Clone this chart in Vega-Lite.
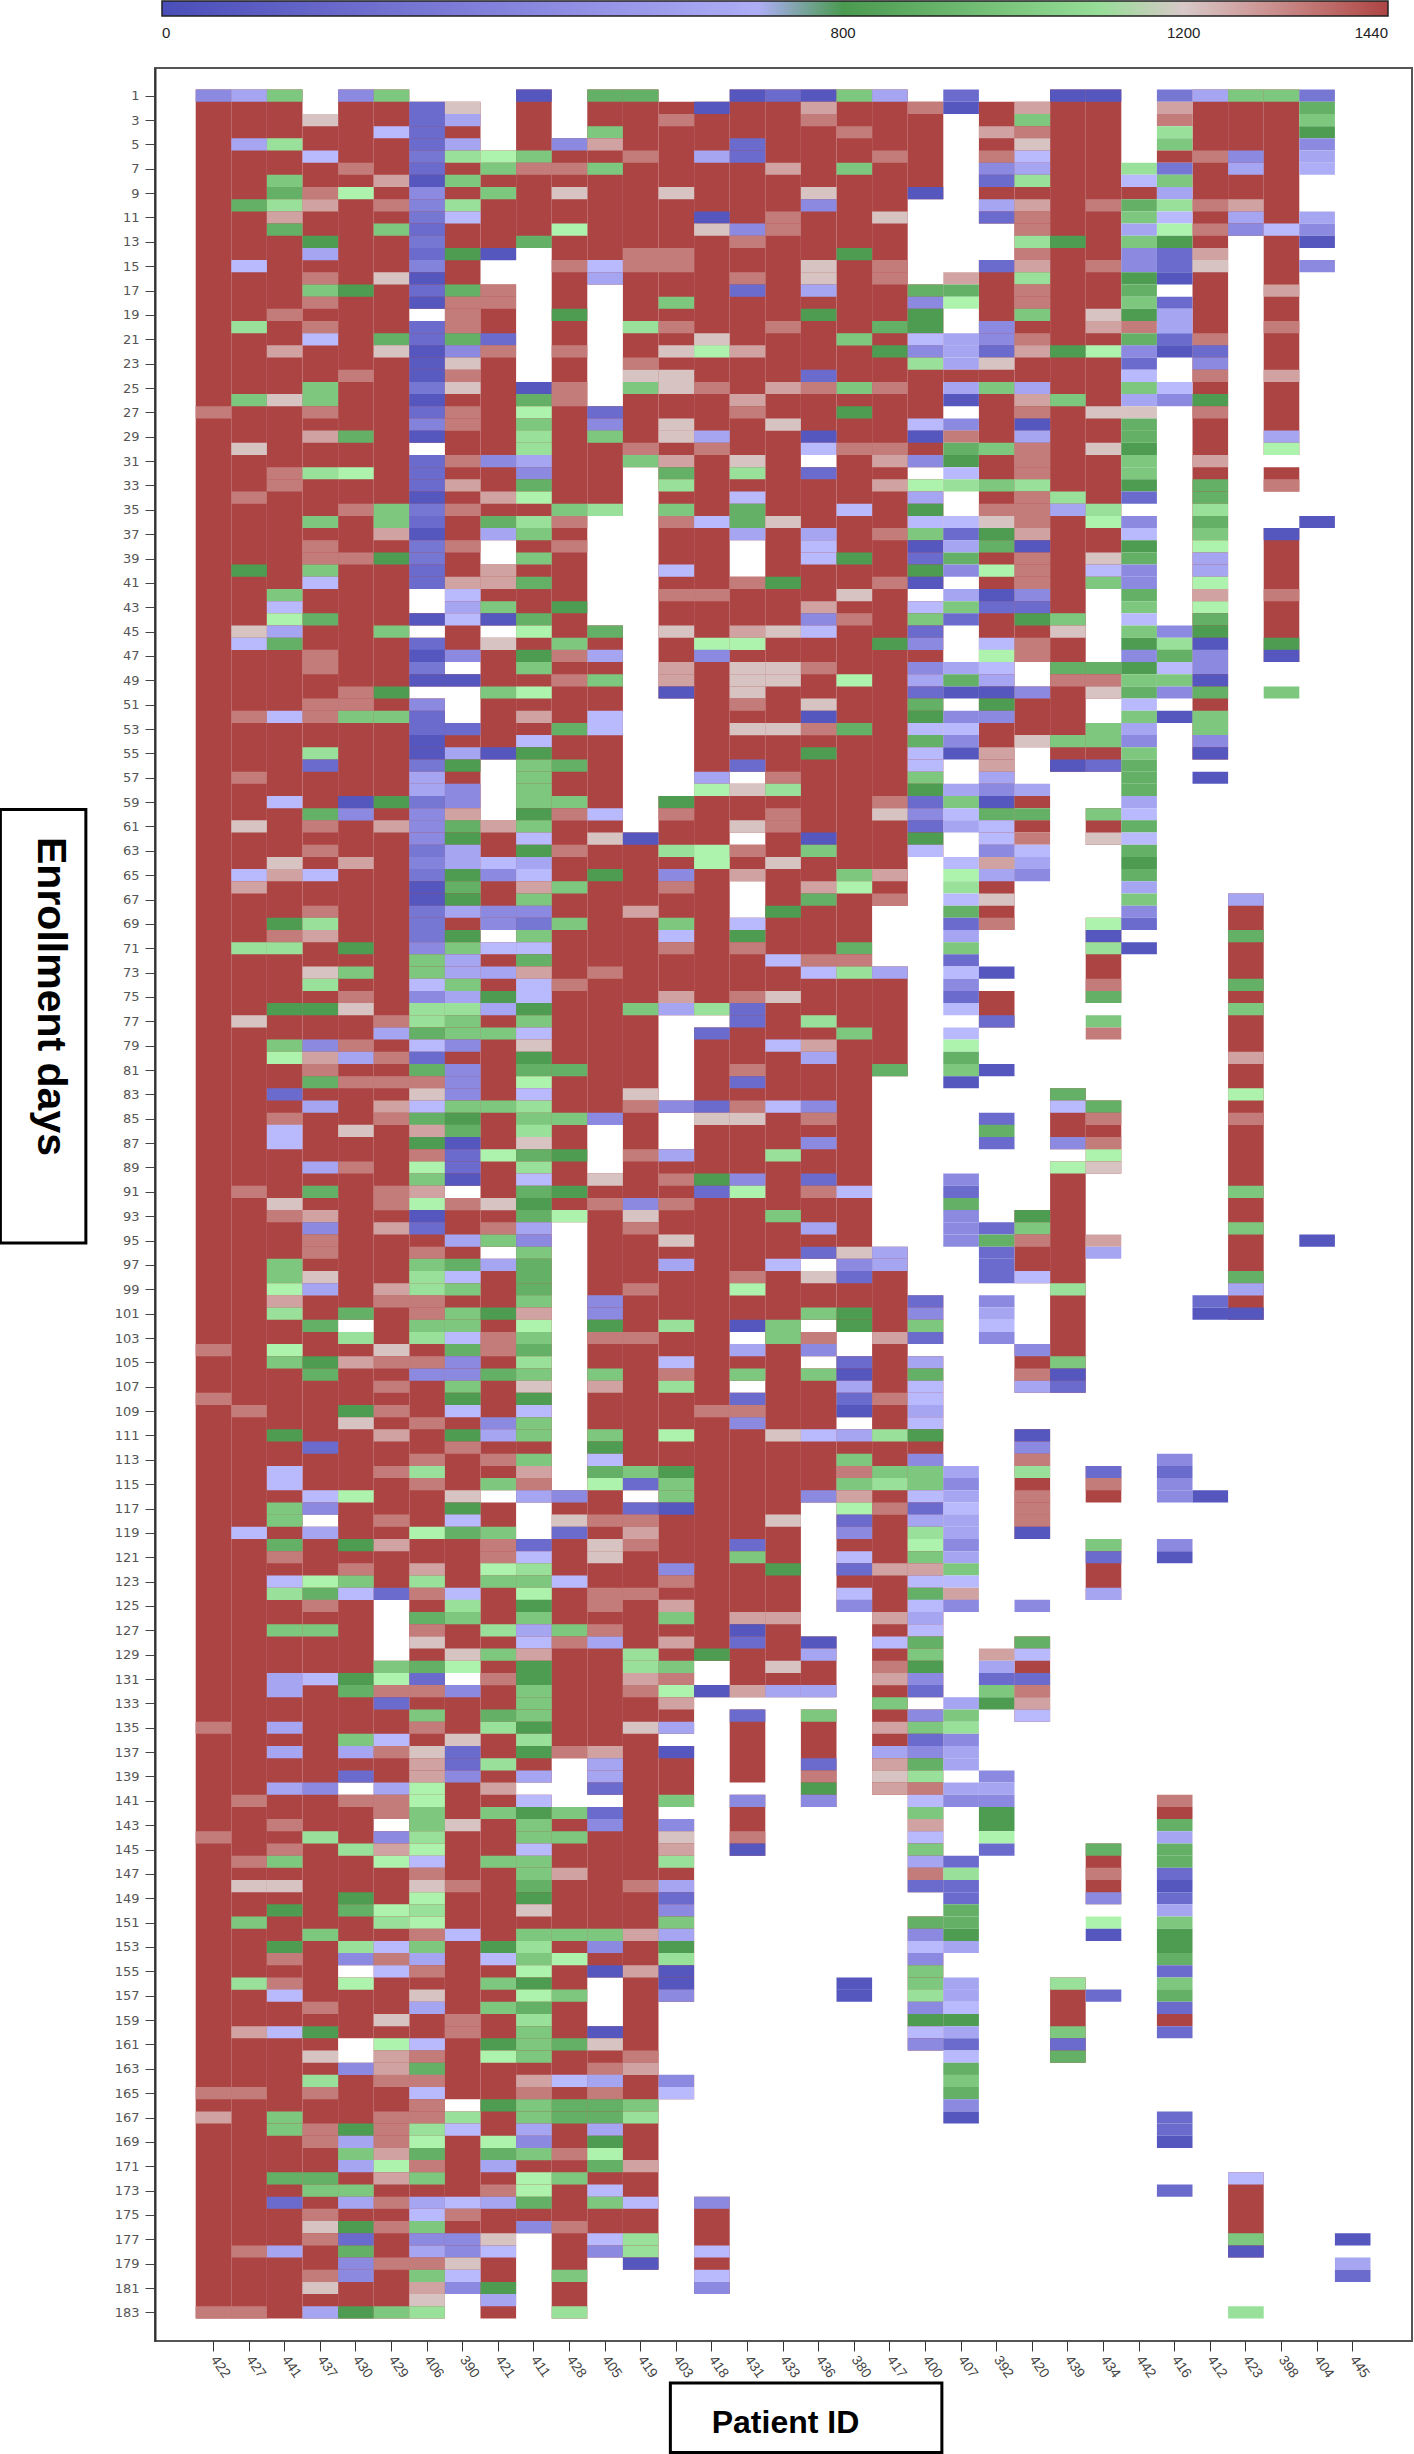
{"$schema":"https://vega.github.io/schema/vega-lite/v6.json","width":1257,"height":2273,"autosize":{"type":"none"},"padding":{"left":155,"top":68,"right":2,"bottom":113},"background":"white","config":{"view":{"stroke":"#555","strokeWidth":2}},"layer":[{"data":{"values":[
{"p":422,"a":0.5,"b":183.5,"v":1440},{"p":427,"a":0.5,"b":183.5,"v":1440},{"p":441,"a":0.5,"b":183.5,"v":1440},{"p":437,"a":2.5,"b":117.5,"v":1440},{"p":437,"a":118.5,"b":183.5,"v":1440},
{"p":430,"a":0.5,"b":101.5,"v":1440},{"p":430,"a":102.5,"b":139.5,"v":1440},{"p":430,"a":140.5,"b":154.5,"v":1440},{"p":430,"a":155.5,"b":160.5,"v":1440},{"p":430,"a":162.5,"b":183.5,"v":1440},
{"p":429,"a":0.5,"b":124.5,"v":1440},{"p":429,"a":129.5,"b":142.5,"v":1440},{"p":429,"a":143.5,"b":183.5,"v":1440},
{"p":406,"a":1.5,"b":18.5,"v":1440},{"p":406,"a":19.5,"b":29.5,"v":1440},{"p":406,"a":30.5,"b":41.5,"v":1440},{"p":406,"a":43.5,"b":44.5,"v":1440},{"p":406,"a":45.5,"b":49.5,"v":1440},{"p":406,"a":50.5,"b":183.5,"v":1440},
{"p":390,"a":1.5,"b":47.5,"v":1440},{"p":390,"a":48.5,"b":49.5,"v":1440},{"p":390,"a":52.5,"b":90.5,"v":1440},{"p":390,"a":91.5,"b":130.5,"v":1440},{"p":390,"a":131.5,"b":165.5,"v":1440},{"p":390,"a":166.5,"b":181.5,"v":1440},
{"p":421,"a":5.5,"b":14.5,"v":1440},{"p":421,"a":16.5,"b":37.5,"v":1440},{"p":421,"a":39.5,"b":44.5,"v":1440},{"p":421,"a":45.5,"b":55.5,"v":1440},{"p":421,"a":60.5,"b":69.5,"v":1440},{"p":421,"a":70.5,"b":95.5,"v":1440},{"p":421,"a":96.5,"b":115.5,"v":1440},{"p":421,"a":116.5,"b":183.5,"v":1440},
{"p":411,"a":0.5,"b":13.5,"v":1440},{"p":411,"a":24.5,"b":116.5,"v":1440},{"p":411,"a":119.5,"b":139.5,"v":1440},{"p":411,"a":140.5,"b":176.5,"v":1440},
{"p":428,"a":4.5,"b":93.5,"v":1440},{"p":428,"a":115.5,"b":137.5,"v":1440},{"p":428,"a":141.5,"b":183.5,"v":1440},
{"p":405,"a":0.5,"b":16.5,"v":1440},{"p":405,"a":26.5,"b":35.5,"v":1440},{"p":405,"a":44.5,"b":85.5,"v":1440},{"p":405,"a":89.5,"b":140.5,"v":1440},{"p":405,"a":141.5,"b":155.5,"v":1440},{"p":405,"a":159.5,"b":178.5,"v":1440},
{"p":419,"a":0.5,"b":31.5,"v":1440},{"p":419,"a":61.5,"b":115.5,"v":1440},{"p":419,"a":116.5,"b":179.5,"v":1440},
{"p":403,"a":1.5,"b":50.5,"v":1440},{"p":403,"a":58.5,"b":76.5,"v":1440},{"p":403,"a":83.5,"b":84.5,"v":1440},{"p":403,"a":87.5,"b":135.5,"v":1440},{"p":403,"a":136.5,"b":141.5,"v":1440},{"p":403,"a":142.5,"b":157.5,"v":1440},{"p":403,"a":163.5,"b":165.5,"v":1440},
{"p":418,"a":1.5,"b":76.5,"v":1440},{"p":418,"a":77.5,"b":129.5,"v":1440},{"p":418,"a":131.5,"b":132.5,"v":1440},{"p":418,"a":173.5,"b":181.5,"v":1440},
{"p":431,"a":0.5,"b":37.5,"v":1440},{"p":431,"a":40.5,"b":56.5,"v":1440},{"p":431,"a":57.5,"b":61.5,"v":1440},{"p":431,"a":62.5,"b":65.5,"v":1440},{"p":431,"a":68.5,"b":102.5,"v":1440},{"p":431,"a":103.5,"b":106.5,"v":1440},{"p":431,"a":107.5,"b":132.5,"v":1440},{"p":431,"a":133.5,"b":139.5,"v":1440},{"p":431,"a":140.5,"b":145.5,"v":1440},
{"p":433,"a":0.5,"b":132.5,"v":1440},
{"p":436,"a":0.5,"b":30.5,"v":1440},{"p":436,"a":31.5,"b":96.5,"v":1440},{"p":436,"a":97.5,"b":101.5,"v":1440},{"p":436,"a":102.5,"b":104.5,"v":1440},{"p":436,"a":105.5,"b":116.5,"v":1440},{"p":436,"a":127.5,"b":132.5,"v":1440},{"p":436,"a":133.5,"b":141.5,"v":1440},
{"p":380,"a":0.5,"b":102.5,"v":1440},{"p":380,"a":104.5,"b":109.5,"v":1440},{"p":380,"a":110.5,"b":125.5,"v":1440},
{"p":417,"a":0.5,"b":67.5,"v":1440},{"p":417,"a":72.5,"b":81.5,"v":1440},{"p":417,"a":95.5,"b":140.5,"v":1440},
{"p":400,"a":1.5,"b":9.5,"v":1440},{"p":400,"a":16.5,"b":31.5,"v":1440},{"p":400,"a":32.5,"b":41.5,"v":1440},{"p":400,"a":42.5,"b":63.5,"v":1440},{"p":400,"a":99.5,"b":103.5,"v":1440},{"p":400,"a":104.5,"b":132.5,"v":1440},{"p":400,"a":133.5,"b":148.5,"v":1440},{"p":400,"a":150.5,"b":161.5,"v":1440},
{"p":392,"a":1.5,"b":11.5,"v":1440},{"p":392,"a":14.5,"b":69.5,"v":1440},{"p":392,"a":74.5,"b":77.5,"v":1440},
{"p":420,"a":1.5,"b":47.5,"v":1440},{"p":420,"a":49.5,"b":54.5,"v":1440},{"p":420,"a":92.5,"b":98.5,"v":1440},{"p":420,"a":103.5,"b":107.5,"v":1440},{"p":420,"a":110.5,"b":119.5,"v":1440},{"p":420,"a":127.5,"b":134.5,"v":1440},
{"p":439,"a":0.5,"b":56.5,"v":1440},{"p":439,"a":82.5,"b":87.5,"v":1440},{"p":439,"a":88.5,"b":107.5,"v":1440},{"p":439,"a":155.5,"b":162.5,"v":1440},
{"p":434,"a":0.5,"b":41.5,"v":1440},{"p":434,"a":47.5,"b":50.5,"v":1440},{"p":434,"a":52.5,"b":56.5,"v":1440},{"p":434,"a":59.5,"b":62.5,"v":1440},{"p":434,"a":68.5,"b":75.5,"v":1440},{"p":434,"a":83.5,"b":89.5,"v":1440},{"p":434,"a":113.5,"b":116.5,"v":1440},{"p":434,"a":119.5,"b":124.5,"v":1440},{"p":434,"a":144.5,"b":149.5,"v":1440},
{"p":412,"a":0.5,"b":55.5,"v":1440},
{"p":423,"a":0.5,"b":12.5,"v":1440},{"p":423,"a":66.5,"b":101.5,"v":1440},{"p":423,"a":171.5,"b":178.5,"v":1440},
{"p":398,"a":0.5,"b":30.5,"v":1440},{"p":398,"a":31.5,"b":33.5,"v":1440},{"p":398,"a":36.5,"b":47.5,"v":1440}
]},"mark":{"type":"rect"},"encoding":{"x":{"field":"p","type":"ordinal","sort":null,"title":"Patient ID","scale":{"domain":[422,427,441,437,430,429,406,390,421,411,428,405,419,403,418,431,433,436,380,417,400,407,392,420,439,434,442,416,412,423,398,404,445],"range":[40.7,1215.5],"paddingInner":0,"paddingOuter":0},"axis":{"labelAngle":55,"labelFont":"Liberation Sans","labelFontSize":14,"labelColor":"#444","tickColor":"#333","tickSize":10,"domain":false,"labelPadding":6,"labelAlign":"left","titleFont":"Liberation Sans","titleFontSize":32,"titleFontWeight":"bold","titleColor":"black","titleBaseline":"alphabetic","titleX":630,"titleY":91}},"y":{"field":"a","type":"quantitative","title":"Enrollment days","scale":{"domain":[185.35,-1.274],"nice":false,"zero":false},"axis":{"values":[1,3,5,7,9,11,13,15,17,19,21,23,25,27,29,31,33,35,37,39,41,43,45,47,49,51,53,55,57,59,61,63,65,67,69,71,73,75,77,79,81,83,85,87,89,91,93,95,97,99,101,103,105,107,109,111,113,115,117,119,121,123,125,127,129,131,133,135,137,139,141,143,145,147,149,151,153,155,157,159,161,163,165,167,169,171,173,175,177,179,181,183],"tickCount":100,"labelOverlap":false,"grid":false,"labelFont":"DejaVu Sans","labelFontSize":13,"labelColor":"#555","tickColor":"#444","tickSize":10,"domainColor":"#333","domainWidth":2,"labelPadding":6,"titleFont":"Liberation Sans","titleFontSize":41,"titleFontWeight":"bold","titleColor":"black","titleBaseline":"alphabetic","titleAngle":90,"titleX":-118,"titleY":928}},"y2":{"field":"b"},"color":{"field":"v","type":"quantitative","scale":{"type":"linear","domain":[0,799.9,800,1199.9,1200,1440],"range":["#4a4eb8","#bcbcff","#4a9a50","#b0f5b0","#d8c8c8","#ad4444"],"clamp":true,"nice":false,"zero":false},"legend":{"orient":"none","legendX":7,"legendY":-67,"direction":"horizontal","gradientLength":1226,"gradientThickness":15,"gradientStrokeColor":"#222","gradientStrokeWidth":1.5,"values":[0,800,1200,1440],"format":"d","title":null,"labelFont":"Liberation Sans","labelFontSize":15,"labelColor":"#222","labelOffset":10}}}},
{"data":{"values":[{"x0":-0.123,"x1":-0.055,"y0":59.6,"y1":95.2},{"x0":0.41,"x1":0.626,"y0":188.8,"y1":194.5}]},"mark":{"type":"rect","fill":null,"stroke":"black","strokeWidth":3,"clip":false},"encoding":{"x":{"field":"x0","type":"quantitative","scale":{"domain":[0,1],"nice":false,"zero":false},"axis":null},"x2":{"field":"x1"},"y":{"field":"y0","type":"quantitative"},"y2":{"field":"y1"}}},
{"data":{"values":[
{"p":422,"d":1,"v":450},{"p":422,"d":27,"v":1340},{"p":422,"d":104,"v":1340},{"p":422,"d":108,"v":1340},{"p":422,"d":135,"v":1340},{"p":422,"d":144,"v":1340},{"p":422,"d":165,"v":1340},{"p":422,"d":167,"v":1270},{"p":422,"d":183,"v":1340},
{"p":427,"d":1,"v":640},{"p":427,"d":5,"v":640},{"p":427,"d":10,"v":900},{"p":427,"d":15,"v":780},{"p":427,"d":20,"v":1110},{"p":427,"d":26,"v":1000},{"p":427,"d":30,"v":1210},{"p":427,"d":34,"v":1340},{"p":427,"d":40,"v":810},{"p":427,"d":45,"v":1210},{"p":427,"d":46,"v":780},{"p":427,"d":52,"v":1340},{"p":427,"d":57,"v":1340},{"p":427,"d":61,"v":1210},{"p":427,"d":65,"v":780},{"p":427,"d":66,"v":1270},{"p":427,"d":71,"v":1110},{"p":427,"d":77,"v":1210},{"p":427,"d":91,"v":1340},{"p":427,"d":109,"v":1340},{"p":427,"d":119,"v":780},{"p":427,"d":141,"v":1340},{"p":427,"d":146,"v":1340},{"p":427,"d":148,"v":1210},{"p":427,"d":151,"v":1000},{"p":427,"d":156,"v":1110},{"p":427,"d":160,"v":1270},{"p":427,"d":165,"v":1340},{"p":427,"d":178,"v":1340},{"p":427,"d":183,"v":1340},
{"p":441,"d":1,"v":1000},{"p":441,"d":5,"v":1110},{"p":441,"d":8,"v":1000},{"p":441,"d":9,"v":900},{"p":441,"d":10,"v":1110},{"p":441,"d":11,"v":1270},{"p":441,"d":12,"v":900},{"p":441,"d":19,"v":1340},{"p":441,"d":22,"v":1270},{"p":441,"d":26,"v":1210},{"p":441,"d":32,"v":1340},{"p":441,"d":33,"v":1340},{"p":441,"d":42,"v":1000},{"p":441,"d":43,"v":780},{"p":441,"d":44,"v":1190},{"p":441,"d":45,"v":640},{"p":441,"d":46,"v":900},{"p":441,"d":52,"v":780},{"p":441,"d":59,"v":780},{"p":441,"d":64,"v":1210},{"p":441,"d":65,"v":1270},{"p":441,"d":69,"v":810},{"p":441,"d":70,"v":1340},{"p":441,"d":71,"v":1110},{"p":441,"d":76,"v":810},{"p":441,"d":79,"v":1000},{"p":441,"d":80,"v":1190},{"p":441,"d":83,"v":220},{"p":441,"d":85,"v":1340},{"p":441,"d":86,"v":780},{"p":441,"d":87,"v":780},{"p":441,"d":92,"v":1210},{"p":441,"d":93,"v":1340},{"p":441,"d":97,"v":1000},{"p":441,"d":98,"v":1000},{"p":441,"d":99,"v":1190},{"p":441,"d":100,"v":1270},{"p":441,"d":101,"v":1110},{"p":441,"d":104,"v":1190},{"p":441,"d":105,"v":1000},{"p":441,"d":111,"v":810},{"p":441,"d":114,"v":780},{"p":441,"d":115,"v":780},{"p":441,"d":117,"v":1000},{"p":441,"d":118,"v":1000},{"p":441,"d":120,"v":900},{"p":441,"d":121,"v":1340},{"p":441,"d":123,"v":780},{"p":441,"d":124,"v":1110},{"p":441,"d":127,"v":1000},{"p":441,"d":131,"v":640},{"p":441,"d":132,"v":640},{"p":441,"d":135,"v":640},{"p":441,"d":137,"v":640},{"p":441,"d":140,"v":640},{"p":441,"d":143,"v":1340},{"p":441,"d":145,"v":1340},{"p":441,"d":146,"v":1000},{"p":441,"d":148,"v":1210},{"p":441,"d":150,"v":810},{"p":441,"d":153,"v":810},{"p":441,"d":154,"v":1340},{"p":441,"d":156,"v":1340},{"p":441,"d":157,"v":780},{"p":441,"d":160,"v":780},{"p":441,"d":167,"v":1000},{"p":441,"d":168,"v":1000},{"p":441,"d":172,"v":900},{"p":441,"d":174,"v":220},{"p":441,"d":178,"v":640},
{"p":437,"d":3,"v":1210},{"p":437,"d":6,"v":780},{"p":437,"d":9,"v":1340},{"p":437,"d":10,"v":1270},{"p":437,"d":13,"v":810},{"p":437,"d":14,"v":640},{"p":437,"d":16,"v":1340},{"p":437,"d":17,"v":1000},{"p":437,"d":18,"v":1340},{"p":437,"d":20,"v":1340},{"p":437,"d":21,"v":780},{"p":437,"d":25,"v":1000},{"p":437,"d":26,"v":1000},{"p":437,"d":27,"v":1340},{"p":437,"d":29,"v":1270},{"p":437,"d":32,"v":1110},{"p":437,"d":36,"v":1000},{"p":437,"d":38,"v":1340},{"p":437,"d":39,"v":1340},{"p":437,"d":40,"v":1000},{"p":437,"d":41,"v":780},{"p":437,"d":44,"v":900},{"p":437,"d":47,"v":1340},{"p":437,"d":48,"v":1340},{"p":437,"d":51,"v":1340},{"p":437,"d":52,"v":1340},{"p":437,"d":55,"v":1110},{"p":437,"d":56,"v":220},{"p":437,"d":60,"v":900},{"p":437,"d":61,"v":1340},{"p":437,"d":63,"v":1340},{"p":437,"d":65,"v":780},{"p":437,"d":68,"v":1340},{"p":437,"d":69,"v":1110},{"p":437,"d":70,"v":1270},{"p":437,"d":73,"v":1210},{"p":437,"d":74,"v":1110},{"p":437,"d":76,"v":810},{"p":437,"d":79,"v":450},{"p":437,"d":80,"v":1270},{"p":437,"d":81,"v":1340},{"p":437,"d":82,"v":900},{"p":437,"d":84,"v":640},{"p":437,"d":89,"v":640},{"p":437,"d":91,"v":900},{"p":437,"d":93,"v":1270},{"p":437,"d":94,"v":450},{"p":437,"d":95,"v":1340},{"p":437,"d":96,"v":1340},{"p":437,"d":98,"v":1210},{"p":437,"d":99,"v":640},{"p":437,"d":102,"v":900},{"p":437,"d":105,"v":810},{"p":437,"d":106,"v":900},{"p":437,"d":112,"v":220},{"p":437,"d":116,"v":780},{"p":437,"d":117,"v":450},{"p":437,"d":119,"v":640},{"p":437,"d":123,"v":1190},{"p":437,"d":124,"v":900},{"p":437,"d":125,"v":1340},{"p":437,"d":127,"v":1000},{"p":437,"d":131,"v":780},{"p":437,"d":140,"v":450},{"p":437,"d":144,"v":1110},{"p":437,"d":152,"v":1000},{"p":437,"d":158,"v":1340},{"p":437,"d":160,"v":810},{"p":437,"d":162,"v":1210},{"p":437,"d":164,"v":1110},{"p":437,"d":165,"v":1340},{"p":437,"d":168,"v":1340},{"p":437,"d":169,"v":1340},{"p":437,"d":172,"v":900},{"p":437,"d":173,"v":1000},{"p":437,"d":175,"v":1340},{"p":437,"d":176,"v":1210},{"p":437,"d":177,"v":1340},{"p":437,"d":180,"v":1340},{"p":437,"d":181,"v":1210},{"p":437,"d":183,"v":640},
{"p":430,"d":1,"v":450},{"p":430,"d":7,"v":1340},{"p":430,"d":9,"v":1190},{"p":430,"d":17,"v":810},{"p":430,"d":24,"v":1340},{"p":430,"d":29,"v":900},{"p":430,"d":32,"v":1190},{"p":430,"d":35,"v":1340},{"p":430,"d":39,"v":1340},{"p":430,"d":50,"v":1340},{"p":430,"d":51,"v":1340},{"p":430,"d":52,"v":1000},{"p":430,"d":59,"v":70},{"p":430,"d":60,"v":450},{"p":430,"d":64,"v":1270},{"p":430,"d":71,"v":810},{"p":430,"d":73,"v":1000},{"p":430,"d":75,"v":1340},{"p":430,"d":76,"v":1210},{"p":430,"d":79,"v":1340},{"p":430,"d":80,"v":640},{"p":430,"d":82,"v":1340},{"p":430,"d":86,"v":1210},{"p":430,"d":89,"v":1340},{"p":430,"d":101,"v":900},{"p":430,"d":103,"v":1110},{"p":430,"d":105,"v":1270},{"p":430,"d":109,"v":810},{"p":430,"d":110,"v":1210},{"p":430,"d":116,"v":1190},{"p":430,"d":120,"v":810},{"p":430,"d":122,"v":1340},{"p":430,"d":123,"v":1000},{"p":430,"d":124,"v":780},{"p":430,"d":131,"v":810},{"p":430,"d":132,"v":900},{"p":430,"d":136,"v":1000},{"p":430,"d":137,"v":640},{"p":430,"d":139,"v":220},{"p":430,"d":141,"v":1340},{"p":430,"d":145,"v":1110},{"p":430,"d":149,"v":810},{"p":430,"d":150,"v":900},{"p":430,"d":153,"v":1110},{"p":430,"d":154,"v":450},{"p":430,"d":156,"v":1190},{"p":430,"d":163,"v":450},{"p":430,"d":168,"v":810},{"p":430,"d":169,"v":640},{"p":430,"d":170,"v":1000},{"p":430,"d":171,"v":640},{"p":430,"d":173,"v":1000},{"p":430,"d":174,"v":640},{"p":430,"d":176,"v":810},{"p":430,"d":177,"v":220},{"p":430,"d":178,"v":900},{"p":430,"d":179,"v":450},{"p":430,"d":180,"v":450},{"p":430,"d":183,"v":810},
{"p":429,"d":1,"v":1000},{"p":429,"d":4,"v":780},{"p":429,"d":8,"v":1270},{"p":429,"d":10,"v":1340},{"p":429,"d":12,"v":1000},{"p":429,"d":16,"v":1210},{"p":429,"d":21,"v":900},{"p":429,"d":22,"v":1210},{"p":429,"d":35,"v":1000},{"p":429,"d":36,"v":1000},{"p":429,"d":37,"v":1270},{"p":429,"d":39,"v":810},{"p":429,"d":45,"v":1000},{"p":429,"d":50,"v":810},{"p":429,"d":52,"v":1000},{"p":429,"d":59,"v":810},{"p":429,"d":61,"v":1270},{"p":429,"d":77,"v":1340},{"p":429,"d":78,"v":640},{"p":429,"d":80,"v":1340},{"p":429,"d":82,"v":1340},{"p":429,"d":84,"v":1270},{"p":429,"d":85,"v":1340},{"p":429,"d":91,"v":1340},{"p":429,"d":92,"v":1340},{"p":429,"d":94,"v":1270},{"p":429,"d":99,"v":1270},{"p":429,"d":100,"v":1340},{"p":429,"d":104,"v":1210},{"p":429,"d":105,"v":1340},{"p":429,"d":107,"v":1340},{"p":429,"d":109,"v":1340},{"p":429,"d":111,"v":1270},{"p":429,"d":114,"v":1340},{"p":429,"d":118,"v":1340},{"p":429,"d":120,"v":1270},{"p":429,"d":124,"v":220},{"p":429,"d":130,"v":1000},{"p":429,"d":131,"v":1190},{"p":429,"d":132,"v":1340},{"p":429,"d":133,"v":220},{"p":429,"d":136,"v":780},{"p":429,"d":137,"v":1340},{"p":429,"d":140,"v":640},{"p":429,"d":141,"v":1340},{"p":429,"d":142,"v":1340},{"p":429,"d":144,"v":450},{"p":429,"d":145,"v":1270},{"p":429,"d":146,"v":1190},{"p":429,"d":150,"v":1190},{"p":429,"d":151,"v":1110},{"p":429,"d":153,"v":780},{"p":429,"d":154,"v":1340},{"p":429,"d":155,"v":780},{"p":429,"d":159,"v":1210},{"p":429,"d":161,"v":1190},{"p":429,"d":162,"v":1270},{"p":429,"d":163,"v":1270},{"p":429,"d":164,"v":1340},{"p":429,"d":167,"v":1340},{"p":429,"d":168,"v":1340},{"p":429,"d":169,"v":1340},{"p":429,"d":170,"v":1270},{"p":429,"d":171,"v":1190},{"p":429,"d":172,"v":1270},{"p":429,"d":174,"v":1340},{"p":429,"d":176,"v":1340},{"p":429,"d":179,"v":1340},{"p":429,"d":183,"v":1000},
{"p":406,"d":2,"v":220},{"p":406,"d":3,"v":220},{"p":406,"d":4,"v":220},{"p":406,"d":5,"v":220},{"p":406,"d":6,"v":300},{"p":406,"d":7,"v":220},{"p":406,"d":8,"v":70},{"p":406,"d":9,"v":450},{"p":406,"d":10,"v":400},{"p":406,"d":11,"v":300},{"p":406,"d":12,"v":220},{"p":406,"d":13,"v":300},{"p":406,"d":14,"v":220},{"p":406,"d":15,"v":400},{"p":406,"d":16,"v":70},{"p":406,"d":17,"v":220},{"p":406,"d":18,"v":70},{"p":406,"d":20,"v":220},{"p":406,"d":21,"v":220},{"p":406,"d":22,"v":70},{"p":406,"d":23,"v":100},{"p":406,"d":24,"v":100},{"p":406,"d":25,"v":300},{"p":406,"d":26,"v":70},{"p":406,"d":27,"v":220},{"p":406,"d":28,"v":400},{"p":406,"d":29,"v":70},{"p":406,"d":31,"v":220},{"p":406,"d":32,"v":220},{"p":406,"d":33,"v":220},{"p":406,"d":34,"v":70},{"p":406,"d":35,"v":300},{"p":406,"d":36,"v":220},{"p":406,"d":37,"v":70},{"p":406,"d":38,"v":300},{"p":406,"d":39,"v":300},{"p":406,"d":40,"v":220},{"p":406,"d":41,"v":220},{"p":406,"d":44,"v":70},{"p":406,"d":46,"v":220},{"p":406,"d":47,"v":70},{"p":406,"d":48,"v":300},{"p":406,"d":49,"v":70},{"p":406,"d":51,"v":450},{"p":406,"d":52,"v":220},{"p":406,"d":53,"v":220},{"p":406,"d":54,"v":70},{"p":406,"d":55,"v":70},{"p":406,"d":56,"v":300},{"p":406,"d":57,"v":640},{"p":406,"d":58,"v":640},{"p":406,"d":59,"v":300},{"p":406,"d":60,"v":450},{"p":406,"d":61,"v":450},{"p":406,"d":62,"v":450},{"p":406,"d":63,"v":300},{"p":406,"d":64,"v":400},{"p":406,"d":65,"v":300},{"p":406,"d":66,"v":70},{"p":406,"d":67,"v":70},{"p":406,"d":68,"v":300},{"p":406,"d":69,"v":300},{"p":406,"d":70,"v":300},{"p":406,"d":71,"v":450},{"p":406,"d":72,"v":1000},{"p":406,"d":73,"v":1000},{"p":406,"d":74,"v":780},{"p":406,"d":75,"v":450},{"p":406,"d":76,"v":1110},{"p":406,"d":77,"v":1110},{"p":406,"d":78,"v":900},{"p":406,"d":79,"v":780},{"p":406,"d":80,"v":220},{"p":406,"d":81,"v":900},{"p":406,"d":82,"v":1340},{"p":406,"d":83,"v":1210},{"p":406,"d":84,"v":780},{"p":406,"d":85,"v":900},{"p":406,"d":86,"v":1270},{"p":406,"d":87,"v":810},{"p":406,"d":88,"v":1340},{"p":406,"d":89,"v":1190},{"p":406,"d":90,"v":1000},{"p":406,"d":91,"v":1270},{"p":406,"d":92,"v":1190},{"p":406,"d":93,"v":70},{"p":406,"d":94,"v":220},{"p":406,"d":96,"v":1340},{"p":406,"d":97,"v":1000},{"p":406,"d":98,"v":1110},{"p":406,"d":99,"v":1110},{"p":406,"d":100,"v":1340},{"p":406,"d":101,"v":1340},{"p":406,"d":102,"v":1000},{"p":406,"d":103,"v":1110},{"p":406,"d":105,"v":1340},{"p":406,"d":106,"v":450},{"p":406,"d":110,"v":1340},{"p":406,"d":113,"v":1340},{"p":406,"d":114,"v":1110},{"p":406,"d":115,"v":1340},{"p":406,"d":119,"v":1190},{"p":406,"d":122,"v":1270},{"p":406,"d":123,"v":1110},{"p":406,"d":124,"v":1340},{"p":406,"d":126,"v":900},{"p":406,"d":127,"v":1340},{"p":406,"d":128,"v":1210},{"p":406,"d":130,"v":900},{"p":406,"d":131,"v":220},{"p":406,"d":132,"v":1340},{"p":406,"d":134,"v":1000},{"p":406,"d":135,"v":1340},{"p":406,"d":137,"v":1210},{"p":406,"d":138,"v":1270},{"p":406,"d":139,"v":1270},{"p":406,"d":140,"v":1190},{"p":406,"d":141,"v":1190},{"p":406,"d":142,"v":1000},{"p":406,"d":143,"v":1000},{"p":406,"d":144,"v":1110},{"p":406,"d":145,"v":1190},{"p":406,"d":146,"v":780},{"p":406,"d":147,"v":1340},{"p":406,"d":148,"v":1210},{"p":406,"d":149,"v":1190},{"p":406,"d":150,"v":1110},{"p":406,"d":151,"v":1190},{"p":406,"d":152,"v":1340},{"p":406,"d":153,"v":1000},{"p":406,"d":154,"v":640},{"p":406,"d":155,"v":1340},{"p":406,"d":157,"v":1210},{"p":406,"d":158,"v":640},{"p":406,"d":161,"v":780},{"p":406,"d":162,"v":1340},{"p":406,"d":163,"v":900},{"p":406,"d":164,"v":1340},{"p":406,"d":165,"v":780},{"p":406,"d":166,"v":1340},{"p":406,"d":167,"v":1340},{"p":406,"d":168,"v":1110},{"p":406,"d":169,"v":1190},{"p":406,"d":170,"v":900},{"p":406,"d":171,"v":1340},{"p":406,"d":172,"v":1000},{"p":406,"d":174,"v":640},{"p":406,"d":175,"v":780},{"p":406,"d":176,"v":1000},{"p":406,"d":177,"v":450},{"p":406,"d":178,"v":640},{"p":406,"d":179,"v":1340},{"p":406,"d":180,"v":1000},{"p":406,"d":181,"v":1270},{"p":406,"d":182,"v":1210},{"p":406,"d":183,"v":1110},
{"p":390,"d":2,"v":1210},{"p":390,"d":3,"v":640},{"p":390,"d":5,"v":640},{"p":390,"d":6,"v":1110},{"p":390,"d":8,"v":1000},{"p":390,"d":10,"v":1110},{"p":390,"d":11,"v":780},{"p":390,"d":14,"v":810},{"p":390,"d":17,"v":900},{"p":390,"d":18,"v":1340},{"p":390,"d":19,"v":1340},{"p":390,"d":20,"v":1340},{"p":390,"d":21,"v":900},{"p":390,"d":22,"v":450},{"p":390,"d":23,"v":1210},{"p":390,"d":24,"v":1340},{"p":390,"d":25,"v":1210},{"p":390,"d":27,"v":1340},{"p":390,"d":28,"v":1340},{"p":390,"d":31,"v":1340},{"p":390,"d":33,"v":1270},{"p":390,"d":35,"v":1340},{"p":390,"d":38,"v":1340},{"p":390,"d":41,"v":1270},{"p":390,"d":42,"v":780},{"p":390,"d":43,"v":640},{"p":390,"d":44,"v":780},{"p":390,"d":47,"v":450},{"p":390,"d":49,"v":70},{"p":390,"d":53,"v":220},{"p":390,"d":55,"v":640},{"p":390,"d":56,"v":810},{"p":390,"d":58,"v":450},{"p":390,"d":59,"v":450},{"p":390,"d":60,"v":1270},{"p":390,"d":61,"v":900},{"p":390,"d":62,"v":810},{"p":390,"d":63,"v":640},{"p":390,"d":64,"v":640},{"p":390,"d":65,"v":810},{"p":390,"d":66,"v":900},{"p":390,"d":67,"v":810},{"p":390,"d":68,"v":640},{"p":390,"d":70,"v":810},{"p":390,"d":71,"v":1000},{"p":390,"d":72,"v":640},{"p":390,"d":73,"v":640},{"p":390,"d":74,"v":1000},{"p":390,"d":75,"v":640},{"p":390,"d":76,"v":1110},{"p":390,"d":77,"v":1000},{"p":390,"d":78,"v":1000},{"p":390,"d":79,"v":450},{"p":390,"d":81,"v":450},{"p":390,"d":82,"v":450},{"p":390,"d":83,"v":450},{"p":390,"d":84,"v":1000},{"p":390,"d":85,"v":810},{"p":390,"d":86,"v":900},{"p":390,"d":87,"v":70},{"p":390,"d":88,"v":220},{"p":390,"d":89,"v":220},{"p":390,"d":90,"v":70},{"p":390,"d":92,"v":1340},{"p":390,"d":95,"v":640},{"p":390,"d":97,"v":900},{"p":390,"d":98,"v":780},{"p":390,"d":99,"v":1000},{"p":390,"d":101,"v":1000},{"p":390,"d":102,"v":1000},{"p":390,"d":103,"v":780},{"p":390,"d":104,"v":900},{"p":390,"d":105,"v":450},{"p":390,"d":106,"v":450},{"p":390,"d":107,"v":1000},{"p":390,"d":108,"v":810},{"p":390,"d":109,"v":780},{"p":390,"d":111,"v":810},{"p":390,"d":112,"v":1340},{"p":390,"d":116,"v":1210},{"p":390,"d":117,"v":810},{"p":390,"d":118,"v":780},{"p":390,"d":119,"v":900},{"p":390,"d":124,"v":780},{"p":390,"d":125,"v":1110},{"p":390,"d":126,"v":1000},{"p":390,"d":129,"v":1210},{"p":390,"d":130,"v":1190},{"p":390,"d":132,"v":450},{"p":390,"d":136,"v":1210},{"p":390,"d":137,"v":220},{"p":390,"d":138,"v":220},{"p":390,"d":139,"v":450},{"p":390,"d":143,"v":1210},{"p":390,"d":148,"v":1340},{"p":390,"d":152,"v":780},{"p":390,"d":159,"v":1340},{"p":390,"d":160,"v":1340},{"p":390,"d":167,"v":1110},{"p":390,"d":168,"v":780},{"p":390,"d":174,"v":780},{"p":390,"d":175,"v":1340},{"p":390,"d":177,"v":450},{"p":390,"d":178,"v":450},{"p":390,"d":179,"v":1210},{"p":390,"d":180,"v":780},{"p":390,"d":181,"v":450},
{"p":421,"d":6,"v":1190},{"p":421,"d":7,"v":1000},{"p":421,"d":9,"v":1000},{"p":421,"d":14,"v":70},{"p":421,"d":17,"v":1340},{"p":421,"d":18,"v":1340},{"p":421,"d":21,"v":220},{"p":421,"d":22,"v":1340},{"p":421,"d":31,"v":450},{"p":421,"d":34,"v":1270},{"p":421,"d":36,"v":900},{"p":421,"d":37,"v":640},{"p":421,"d":40,"v":1270},{"p":421,"d":41,"v":1270},{"p":421,"d":43,"v":1000},{"p":421,"d":44,"v":70},{"p":421,"d":46,"v":1210},{"p":421,"d":50,"v":1000},{"p":421,"d":55,"v":70},{"p":421,"d":61,"v":1270},{"p":421,"d":64,"v":780},{"p":421,"d":65,"v":450},{"p":421,"d":68,"v":450},{"p":421,"d":69,"v":450},{"p":421,"d":71,"v":780},{"p":421,"d":73,"v":640},{"p":421,"d":75,"v":810},{"p":421,"d":76,"v":640},{"p":421,"d":78,"v":1000},{"p":421,"d":84,"v":1000},{"p":421,"d":88,"v":1190},{"p":421,"d":92,"v":1210},{"p":421,"d":94,"v":1340},{"p":421,"d":95,"v":1000},{"p":421,"d":97,"v":640},{"p":421,"d":101,"v":810},{"p":421,"d":103,"v":1340},{"p":421,"d":104,"v":1340},{"p":421,"d":106,"v":900},{"p":421,"d":110,"v":450},{"p":421,"d":111,"v":640},{"p":421,"d":113,"v":1340},{"p":421,"d":115,"v":1000},{"p":421,"d":119,"v":1000},{"p":421,"d":120,"v":1340},{"p":421,"d":121,"v":1340},{"p":421,"d":122,"v":1190},{"p":421,"d":123,"v":1000},{"p":421,"d":127,"v":1110},{"p":421,"d":129,"v":1000},{"p":421,"d":131,"v":1340},{"p":421,"d":134,"v":900},{"p":421,"d":135,"v":1110},{"p":421,"d":138,"v":1110},{"p":421,"d":140,"v":1270},{"p":421,"d":142,"v":1000},{"p":421,"d":146,"v":1000},{"p":421,"d":153,"v":810},{"p":421,"d":154,"v":780},{"p":421,"d":156,"v":1000},{"p":421,"d":158,"v":1000},{"p":421,"d":161,"v":810},{"p":421,"d":162,"v":1190},{"p":421,"d":166,"v":810},{"p":421,"d":169,"v":1190},{"p":421,"d":170,"v":900},{"p":421,"d":171,"v":640},{"p":421,"d":173,"v":1340},{"p":421,"d":174,"v":640},{"p":421,"d":177,"v":1210},{"p":421,"d":178,"v":780},{"p":421,"d":181,"v":810},{"p":421,"d":182,"v":640},
{"p":411,"d":1,"v":70},{"p":411,"d":6,"v":1000},{"p":411,"d":7,"v":1340},{"p":411,"d":13,"v":900},{"p":411,"d":25,"v":70},{"p":411,"d":26,"v":900},{"p":411,"d":27,"v":1190},{"p":411,"d":28,"v":1000},{"p":411,"d":29,"v":1110},{"p":411,"d":30,"v":1110},{"p":411,"d":31,"v":640},{"p":411,"d":32,"v":450},{"p":411,"d":33,"v":900},{"p":411,"d":34,"v":1190},{"p":411,"d":36,"v":1110},{"p":411,"d":37,"v":1000},{"p":411,"d":39,"v":1000},{"p":411,"d":41,"v":900},{"p":411,"d":44,"v":900},{"p":411,"d":45,"v":1190},{"p":411,"d":47,"v":810},{"p":411,"d":48,"v":1000},{"p":411,"d":50,"v":1190},{"p":411,"d":52,"v":1270},{"p":411,"d":54,"v":780},{"p":411,"d":55,"v":810},{"p":411,"d":56,"v":1000},{"p":411,"d":57,"v":1000},{"p":411,"d":58,"v":1000},{"p":411,"d":59,"v":1000},{"p":411,"d":60,"v":810},{"p":411,"d":61,"v":1000},{"p":411,"d":62,"v":780},{"p":411,"d":63,"v":810},{"p":411,"d":64,"v":640},{"p":411,"d":65,"v":780},{"p":411,"d":66,"v":1270},{"p":411,"d":67,"v":1000},{"p":411,"d":68,"v":450},{"p":411,"d":69,"v":300},{"p":411,"d":70,"v":1000},{"p":411,"d":71,"v":780},{"p":411,"d":72,"v":900},{"p":411,"d":73,"v":1270},{"p":411,"d":74,"v":780},{"p":411,"d":75,"v":780},{"p":411,"d":76,"v":810},{"p":411,"d":77,"v":1000},{"p":411,"d":78,"v":780},{"p":411,"d":79,"v":1210},{"p":411,"d":80,"v":810},{"p":411,"d":81,"v":900},{"p":411,"d":82,"v":1190},{"p":411,"d":83,"v":780},{"p":411,"d":84,"v":1110},{"p":411,"d":85,"v":1000},{"p":411,"d":86,"v":1110},{"p":411,"d":87,"v":1210},{"p":411,"d":88,"v":900},{"p":411,"d":89,"v":1110},{"p":411,"d":90,"v":780},{"p":411,"d":91,"v":900},{"p":411,"d":92,"v":810},{"p":411,"d":93,"v":900},{"p":411,"d":94,"v":640},{"p":411,"d":95,"v":450},{"p":411,"d":96,"v":1000},{"p":411,"d":97,"v":900},{"p":411,"d":98,"v":900},{"p":411,"d":99,"v":900},{"p":411,"d":100,"v":1000},{"p":411,"d":101,"v":1270},{"p":411,"d":102,"v":1190},{"p":411,"d":103,"v":1000},{"p":411,"d":104,"v":900},{"p":411,"d":105,"v":1110},{"p":411,"d":106,"v":1000},{"p":411,"d":107,"v":1210},{"p":411,"d":108,"v":810},{"p":411,"d":109,"v":780},{"p":411,"d":110,"v":1000},{"p":411,"d":111,"v":1000},{"p":411,"d":113,"v":1000},{"p":411,"d":114,"v":1270},{"p":411,"d":115,"v":1340},{"p":411,"d":116,"v":640},{"p":411,"d":120,"v":220},{"p":411,"d":121,"v":780},{"p":411,"d":122,"v":1110},{"p":411,"d":123,"v":1000},{"p":411,"d":124,"v":1190},{"p":411,"d":125,"v":810},{"p":411,"d":126,"v":1000},{"p":411,"d":127,"v":640},{"p":411,"d":128,"v":780},{"p":411,"d":129,"v":1270},{"p":411,"d":130,"v":810},{"p":411,"d":131,"v":810},{"p":411,"d":132,"v":1000},{"p":411,"d":133,"v":1000},{"p":411,"d":134,"v":1000},{"p":411,"d":135,"v":810},{"p":411,"d":136,"v":1110},{"p":411,"d":137,"v":810},{"p":411,"d":139,"v":640},{"p":411,"d":141,"v":780},{"p":411,"d":142,"v":810},{"p":411,"d":143,"v":1000},{"p":411,"d":144,"v":1000},{"p":411,"d":145,"v":780},{"p":411,"d":146,"v":1000},{"p":411,"d":147,"v":1000},{"p":411,"d":148,"v":900},{"p":411,"d":149,"v":810},{"p":411,"d":150,"v":1210},{"p":411,"d":152,"v":1000},{"p":411,"d":153,"v":1110},{"p":411,"d":154,"v":1000},{"p":411,"d":155,"v":1190},{"p":411,"d":156,"v":810},{"p":411,"d":157,"v":1190},{"p":411,"d":158,"v":900},{"p":411,"d":159,"v":1110},{"p":411,"d":160,"v":1000},{"p":411,"d":161,"v":1000},{"p":411,"d":162,"v":1000},{"p":411,"d":164,"v":1270},{"p":411,"d":165,"v":1340},{"p":411,"d":166,"v":1000},{"p":411,"d":167,"v":1000},{"p":411,"d":168,"v":640},{"p":411,"d":169,"v":450},{"p":411,"d":170,"v":1000},{"p":411,"d":172,"v":1190},{"p":411,"d":173,"v":1190},{"p":411,"d":174,"v":900},{"p":411,"d":176,"v":450},
{"p":428,"d":5,"v":450},{"p":428,"d":7,"v":1340},{"p":428,"d":9,"v":1210},{"p":428,"d":12,"v":1190},{"p":428,"d":15,"v":1340},{"p":428,"d":19,"v":810},{"p":428,"d":22,"v":1340},{"p":428,"d":25,"v":1340},{"p":428,"d":26,"v":1340},{"p":428,"d":35,"v":1000},{"p":428,"d":36,"v":1340},{"p":428,"d":38,"v":1340},{"p":428,"d":43,"v":810},{"p":428,"d":46,"v":1000},{"p":428,"d":47,"v":1340},{"p":428,"d":49,"v":1340},{"p":428,"d":53,"v":900},{"p":428,"d":56,"v":900},{"p":428,"d":59,"v":1000},{"p":428,"d":60,"v":1340},{"p":428,"d":63,"v":1340},{"p":428,"d":66,"v":1000},{"p":428,"d":69,"v":1000},{"p":428,"d":74,"v":1340},{"p":428,"d":81,"v":900},{"p":428,"d":85,"v":1000},{"p":428,"d":88,"v":810},{"p":428,"d":91,"v":810},{"p":428,"d":93,"v":1190},{"p":428,"d":116,"v":450},{"p":428,"d":118,"v":1210},{"p":428,"d":119,"v":220},{"p":428,"d":123,"v":780},{"p":428,"d":127,"v":1000},{"p":428,"d":128,"v":1340},{"p":428,"d":137,"v":1340},{"p":428,"d":142,"v":1000},{"p":428,"d":144,"v":1000},{"p":428,"d":147,"v":1270},{"p":428,"d":152,"v":1000},{"p":428,"d":154,"v":1190},{"p":428,"d":157,"v":1000},{"p":428,"d":161,"v":900},{"p":428,"d":164,"v":780},{"p":428,"d":166,"v":900},{"p":428,"d":167,"v":900},{"p":428,"d":170,"v":1340},{"p":428,"d":172,"v":1000},{"p":428,"d":176,"v":1340},{"p":428,"d":180,"v":1000},{"p":428,"d":183,"v":1110},
{"p":405,"d":1,"v":900},{"p":405,"d":4,"v":1000},{"p":405,"d":5,"v":1270},{"p":405,"d":7,"v":1000},{"p":405,"d":15,"v":780},{"p":405,"d":16,"v":640},{"p":405,"d":27,"v":220},{"p":405,"d":28,"v":450},{"p":405,"d":29,"v":1000},{"p":405,"d":35,"v":1110},{"p":405,"d":45,"v":900},{"p":405,"d":47,"v":640},{"p":405,"d":49,"v":1000},{"p":405,"d":52,"v":780},{"p":405,"d":53,"v":780},{"p":405,"d":60,"v":780},{"p":405,"d":62,"v":1210},{"p":405,"d":65,"v":810},{"p":405,"d":73,"v":1340},{"p":405,"d":85,"v":450},{"p":405,"d":90,"v":1210},{"p":405,"d":92,"v":1340},{"p":405,"d":100,"v":450},{"p":405,"d":101,"v":450},{"p":405,"d":102,"v":810},{"p":405,"d":103,"v":1340},{"p":405,"d":106,"v":1000},{"p":405,"d":107,"v":1270},{"p":405,"d":111,"v":1000},{"p":405,"d":112,"v":810},{"p":405,"d":113,"v":780},{"p":405,"d":114,"v":900},{"p":405,"d":115,"v":1190},{"p":405,"d":118,"v":1340},{"p":405,"d":120,"v":1210},{"p":405,"d":121,"v":1210},{"p":405,"d":124,"v":1340},{"p":405,"d":125,"v":1340},{"p":405,"d":127,"v":1340},{"p":405,"d":128,"v":640},{"p":405,"d":137,"v":1270},{"p":405,"d":138,"v":640},{"p":405,"d":139,"v":640},{"p":405,"d":140,"v":220},{"p":405,"d":142,"v":220},{"p":405,"d":143,"v":450},{"p":405,"d":152,"v":1000},{"p":405,"d":153,"v":450},{"p":405,"d":155,"v":70},{"p":405,"d":160,"v":70},{"p":405,"d":161,"v":1210},{"p":405,"d":163,"v":1340},{"p":405,"d":164,"v":640},{"p":405,"d":165,"v":1340},{"p":405,"d":166,"v":900},{"p":405,"d":167,"v":900},{"p":405,"d":168,"v":640},{"p":405,"d":169,"v":810},{"p":405,"d":170,"v":1190},{"p":405,"d":171,"v":900},{"p":405,"d":173,"v":780},{"p":405,"d":174,"v":1000},{"p":405,"d":177,"v":780},{"p":405,"d":178,"v":450},
{"p":419,"d":1,"v":900},{"p":419,"d":6,"v":1340},{"p":419,"d":14,"v":1340},{"p":419,"d":15,"v":1340},{"p":419,"d":20,"v":1110},{"p":419,"d":23,"v":1340},{"p":419,"d":24,"v":1210},{"p":419,"d":25,"v":1000},{"p":419,"d":30,"v":1340},{"p":419,"d":31,"v":1000},{"p":419,"d":62,"v":70},{"p":419,"d":68,"v":1270},{"p":419,"d":76,"v":1000},{"p":419,"d":83,"v":1210},{"p":419,"d":84,"v":1340},{"p":419,"d":88,"v":1340},{"p":419,"d":92,"v":450},{"p":419,"d":93,"v":1210},{"p":419,"d":94,"v":1340},{"p":419,"d":99,"v":1340},{"p":419,"d":103,"v":1340},{"p":419,"d":114,"v":1000},{"p":419,"d":115,"v":220},{"p":419,"d":117,"v":220},{"p":419,"d":118,"v":1340},{"p":419,"d":119,"v":1270},{"p":419,"d":120,"v":1340},{"p":419,"d":124,"v":1340},{"p":419,"d":129,"v":1110},{"p":419,"d":130,"v":1110},{"p":419,"d":131,"v":1270},{"p":419,"d":132,"v":1340},{"p":419,"d":135,"v":1210},{"p":419,"d":148,"v":1340},{"p":419,"d":152,"v":1270},{"p":419,"d":155,"v":1270},{"p":419,"d":162,"v":1340},{"p":419,"d":163,"v":1270},{"p":419,"d":166,"v":1000},{"p":419,"d":167,"v":1110},{"p":419,"d":171,"v":1270},{"p":419,"d":174,"v":780},{"p":419,"d":177,"v":1110},{"p":419,"d":178,"v":1110},{"p":419,"d":179,"v":70},
{"p":403,"d":3,"v":1340},{"p":403,"d":9,"v":1210},{"p":403,"d":14,"v":1340},{"p":403,"d":15,"v":1340},{"p":403,"d":18,"v":1000},{"p":403,"d":20,"v":1340},{"p":403,"d":22,"v":1210},{"p":403,"d":24,"v":1210},{"p":403,"d":25,"v":1210},{"p":403,"d":28,"v":1210},{"p":403,"d":29,"v":1210},{"p":403,"d":31,"v":1270},{"p":403,"d":32,"v":900},{"p":403,"d":33,"v":1110},{"p":403,"d":35,"v":1000},{"p":403,"d":36,"v":1340},{"p":403,"d":40,"v":780},{"p":403,"d":42,"v":1340},{"p":403,"d":45,"v":1210},{"p":403,"d":48,"v":1270},{"p":403,"d":49,"v":1270},{"p":403,"d":50,"v":70},{"p":403,"d":59,"v":810},{"p":403,"d":60,"v":1340},{"p":403,"d":63,"v":1110},{"p":403,"d":65,"v":450},{"p":403,"d":66,"v":1340},{"p":403,"d":69,"v":1000},{"p":403,"d":70,"v":780},{"p":403,"d":71,"v":1340},{"p":403,"d":75,"v":1270},{"p":403,"d":76,"v":640},{"p":403,"d":84,"v":450},{"p":403,"d":88,"v":640},{"p":403,"d":90,"v":1340},{"p":403,"d":92,"v":1340},{"p":403,"d":95,"v":1210},{"p":403,"d":97,"v":640},{"p":403,"d":102,"v":1110},{"p":403,"d":105,"v":780},{"p":403,"d":106,"v":1340},{"p":403,"d":107,"v":1110},{"p":403,"d":111,"v":1190},{"p":403,"d":114,"v":810},{"p":403,"d":115,"v":1000},{"p":403,"d":116,"v":1000},{"p":403,"d":117,"v":70},{"p":403,"d":122,"v":450},{"p":403,"d":123,"v":1340},{"p":403,"d":125,"v":1270},{"p":403,"d":126,"v":1000},{"p":403,"d":128,"v":1270},{"p":403,"d":130,"v":1000},{"p":403,"d":131,"v":1340},{"p":403,"d":132,"v":1190},{"p":403,"d":133,"v":1270},{"p":403,"d":135,"v":640},{"p":403,"d":137,"v":70},{"p":403,"d":141,"v":1000},{"p":403,"d":143,"v":450},{"p":403,"d":144,"v":1210},{"p":403,"d":145,"v":1270},{"p":403,"d":146,"v":1110},{"p":403,"d":148,"v":640},{"p":403,"d":149,"v":220},{"p":403,"d":150,"v":450},{"p":403,"d":151,"v":1000},{"p":403,"d":152,"v":640},{"p":403,"d":153,"v":810},{"p":403,"d":154,"v":1110},{"p":403,"d":155,"v":70},{"p":403,"d":156,"v":70},{"p":403,"d":157,"v":450},{"p":403,"d":164,"v":450},{"p":403,"d":165,"v":780},
{"p":418,"d":2,"v":70},{"p":418,"d":6,"v":640},{"p":418,"d":11,"v":70},{"p":418,"d":12,"v":1210},{"p":418,"d":21,"v":1210},{"p":418,"d":22,"v":1190},{"p":418,"d":25,"v":1340},{"p":418,"d":29,"v":640},{"p":418,"d":30,"v":1340},{"p":418,"d":36,"v":780},{"p":418,"d":42,"v":1340},{"p":418,"d":46,"v":1190},{"p":418,"d":47,"v":450},{"p":418,"d":57,"v":640},{"p":418,"d":58,"v":1190},{"p":418,"d":63,"v":1190},{"p":418,"d":64,"v":1190},{"p":418,"d":76,"v":1110},{"p":418,"d":78,"v":220},{"p":418,"d":84,"v":220},{"p":418,"d":85,"v":1210},{"p":418,"d":90,"v":810},{"p":418,"d":91,"v":220},{"p":418,"d":109,"v":1340},{"p":418,"d":129,"v":810},{"p":418,"d":132,"v":70},{"p":418,"d":174,"v":450},{"p":418,"d":178,"v":780},{"p":418,"d":180,"v":780},{"p":418,"d":181,"v":450},
{"p":431,"d":1,"v":70},{"p":431,"d":5,"v":220},{"p":431,"d":6,"v":220},{"p":431,"d":12,"v":450},{"p":431,"d":13,"v":1340},{"p":431,"d":16,"v":1340},{"p":431,"d":17,"v":220},{"p":431,"d":22,"v":1270},{"p":431,"d":26,"v":1270},{"p":431,"d":27,"v":1340},{"p":431,"d":31,"v":1210},{"p":431,"d":32,"v":1110},{"p":431,"d":34,"v":780},{"p":431,"d":35,"v":900},{"p":431,"d":36,"v":900},{"p":431,"d":37,"v":640},{"p":431,"d":41,"v":1340},{"p":431,"d":45,"v":1270},{"p":431,"d":46,"v":1190},{"p":431,"d":48,"v":1210},{"p":431,"d":49,"v":1210},{"p":431,"d":50,"v":1210},{"p":431,"d":51,"v":1340},{"p":431,"d":53,"v":1210},{"p":431,"d":56,"v":220},{"p":431,"d":58,"v":1210},{"p":431,"d":61,"v":1210},{"p":431,"d":63,"v":1340},{"p":431,"d":65,"v":1270},{"p":431,"d":69,"v":780},{"p":431,"d":70,"v":810},{"p":431,"d":71,"v":1340},{"p":431,"d":75,"v":1340},{"p":431,"d":76,"v":220},{"p":431,"d":77,"v":220},{"p":431,"d":81,"v":1340},{"p":431,"d":82,"v":220},{"p":431,"d":84,"v":1340},{"p":431,"d":85,"v":1210},{"p":431,"d":90,"v":450},{"p":431,"d":91,"v":1190},{"p":431,"d":98,"v":1340},{"p":431,"d":99,"v":1190},{"p":431,"d":102,"v":70},{"p":431,"d":104,"v":640},{"p":431,"d":106,"v":1000},{"p":431,"d":108,"v":220},{"p":431,"d":109,"v":1340},{"p":431,"d":110,"v":450},{"p":431,"d":120,"v":220},{"p":431,"d":121,"v":1000},{"p":431,"d":126,"v":1270},{"p":431,"d":127,"v":70},{"p":431,"d":128,"v":220},{"p":431,"d":132,"v":1270},{"p":431,"d":134,"v":220},{"p":431,"d":141,"v":450},{"p":431,"d":144,"v":1340},{"p":431,"d":145,"v":70},
{"p":433,"d":1,"v":220},{"p":433,"d":7,"v":1270},{"p":433,"d":11,"v":1340},{"p":433,"d":12,"v":1340},{"p":433,"d":20,"v":1340},{"p":433,"d":25,"v":1270},{"p":433,"d":28,"v":1210},{"p":433,"d":36,"v":1210},{"p":433,"d":41,"v":810},{"p":433,"d":45,"v":1210},{"p":433,"d":48,"v":1210},{"p":433,"d":49,"v":1210},{"p":433,"d":53,"v":1210},{"p":433,"d":57,"v":1340},{"p":433,"d":58,"v":1110},{"p":433,"d":60,"v":1340},{"p":433,"d":61,"v":1340},{"p":433,"d":64,"v":1210},{"p":433,"d":68,"v":810},{"p":433,"d":72,"v":780},{"p":433,"d":75,"v":1210},{"p":433,"d":79,"v":780},{"p":433,"d":84,"v":780},{"p":433,"d":88,"v":1110},{"p":433,"d":93,"v":1000},{"p":433,"d":97,"v":780},{"p":433,"d":102,"v":1000},{"p":433,"d":103,"v":1000},{"p":433,"d":111,"v":1210},{"p":433,"d":118,"v":1210},{"p":433,"d":122,"v":810},{"p":433,"d":126,"v":1270},{"p":433,"d":130,"v":1210},{"p":433,"d":132,"v":640},
{"p":436,"d":1,"v":70},{"p":436,"d":2,"v":1270},{"p":436,"d":3,"v":1340},{"p":436,"d":9,"v":1210},{"p":436,"d":10,"v":450},{"p":436,"d":15,"v":1210},{"p":436,"d":16,"v":1210},{"p":436,"d":17,"v":640},{"p":436,"d":19,"v":810},{"p":436,"d":24,"v":220},{"p":436,"d":25,"v":1340},{"p":436,"d":29,"v":70},{"p":436,"d":30,"v":780},{"p":436,"d":32,"v":220},{"p":436,"d":37,"v":640},{"p":436,"d":38,"v":780},{"p":436,"d":39,"v":780},{"p":436,"d":43,"v":1270},{"p":436,"d":44,"v":450},{"p":436,"d":45,"v":780},{"p":436,"d":48,"v":1340},{"p":436,"d":51,"v":1210},{"p":436,"d":52,"v":70},{"p":436,"d":53,"v":1340},{"p":436,"d":55,"v":810},{"p":436,"d":62,"v":70},{"p":436,"d":63,"v":1000},{"p":436,"d":66,"v":1270},{"p":436,"d":67,"v":900},{"p":436,"d":72,"v":1340},{"p":436,"d":73,"v":780},{"p":436,"d":77,"v":1110},{"p":436,"d":79,"v":1270},{"p":436,"d":80,"v":640},{"p":436,"d":84,"v":450},{"p":436,"d":85,"v":1340},{"p":436,"d":87,"v":450},{"p":436,"d":90,"v":220},{"p":436,"d":91,"v":1340},{"p":436,"d":94,"v":640},{"p":436,"d":96,"v":220},{"p":436,"d":98,"v":1210},{"p":436,"d":101,"v":1000},{"p":436,"d":103,"v":1340},{"p":436,"d":104,"v":450},{"p":436,"d":106,"v":1000},{"p":436,"d":111,"v":780},{"p":436,"d":116,"v":450},{"p":436,"d":128,"v":70},{"p":436,"d":129,"v":640},{"p":436,"d":132,"v":640},{"p":436,"d":134,"v":1000},{"p":436,"d":138,"v":220},{"p":436,"d":139,"v":1340},{"p":436,"d":140,"v":810},{"p":436,"d":141,"v":450},
{"p":380,"d":1,"v":1000},{"p":380,"d":4,"v":1340},{"p":380,"d":7,"v":1000},{"p":380,"d":14,"v":810},{"p":380,"d":21,"v":1000},{"p":380,"d":25,"v":1000},{"p":380,"d":27,"v":810},{"p":380,"d":30,"v":1340},{"p":380,"d":35,"v":780},{"p":380,"d":39,"v":810},{"p":380,"d":42,"v":1210},{"p":380,"d":44,"v":1340},{"p":380,"d":49,"v":1190},{"p":380,"d":53,"v":900},{"p":380,"d":65,"v":1000},{"p":380,"d":66,"v":1190},{"p":380,"d":71,"v":900},{"p":380,"d":72,"v":1340},{"p":380,"d":73,"v":1110},{"p":380,"d":78,"v":1000},{"p":380,"d":91,"v":780},{"p":380,"d":96,"v":1210},{"p":380,"d":97,"v":450},{"p":380,"d":98,"v":220},{"p":380,"d":101,"v":810},{"p":380,"d":102,"v":810},{"p":380,"d":105,"v":220},{"p":380,"d":106,"v":70},{"p":380,"d":107,"v":640},{"p":380,"d":108,"v":220},{"p":380,"d":109,"v":70},{"p":380,"d":111,"v":640},{"p":380,"d":113,"v":1000},{"p":380,"d":114,"v":1340},{"p":380,"d":115,"v":1000},{"p":380,"d":116,"v":1270},{"p":380,"d":117,"v":1190},{"p":380,"d":118,"v":220},{"p":380,"d":119,"v":450},{"p":380,"d":121,"v":780},{"p":380,"d":122,"v":220},{"p":380,"d":124,"v":780},{"p":380,"d":125,"v":450},{"p":380,"d":156,"v":70},{"p":380,"d":157,"v":70},
{"p":417,"d":1,"v":640},{"p":417,"d":6,"v":1340},{"p":417,"d":11,"v":1210},{"p":417,"d":15,"v":1340},{"p":417,"d":16,"v":1340},{"p":417,"d":20,"v":900},{"p":417,"d":22,"v":810},{"p":417,"d":25,"v":1340},{"p":417,"d":30,"v":1340},{"p":417,"d":31,"v":1270},{"p":417,"d":33,"v":1270},{"p":417,"d":37,"v":1340},{"p":417,"d":41,"v":1340},{"p":417,"d":46,"v":810},{"p":417,"d":59,"v":1340},{"p":417,"d":60,"v":1210},{"p":417,"d":65,"v":1270},{"p":417,"d":67,"v":1340},{"p":417,"d":73,"v":640},{"p":417,"d":81,"v":900},{"p":417,"d":96,"v":640},{"p":417,"d":97,"v":640},{"p":417,"d":103,"v":1270},{"p":417,"d":108,"v":1340},{"p":417,"d":111,"v":1110},{"p":417,"d":114,"v":1000},{"p":417,"d":115,"v":1110},{"p":417,"d":117,"v":1340},{"p":417,"d":122,"v":1270},{"p":417,"d":126,"v":1270},{"p":417,"d":128,"v":780},{"p":417,"d":130,"v":1340},{"p":417,"d":131,"v":1270},{"p":417,"d":133,"v":1000},{"p":417,"d":135,"v":1270},{"p":417,"d":137,"v":640},{"p":417,"d":138,"v":1270},{"p":417,"d":139,"v":1210},{"p":417,"d":140,"v":1270},
{"p":400,"d":2,"v":1340},{"p":400,"d":9,"v":70},{"p":400,"d":17,"v":900},{"p":400,"d":18,"v":450},{"p":400,"d":19,"v":810},{"p":400,"d":20,"v":810},{"p":400,"d":21,"v":780},{"p":400,"d":22,"v":450},{"p":400,"d":23,"v":1110},{"p":400,"d":28,"v":780},{"p":400,"d":29,"v":70},{"p":400,"d":31,"v":450},{"p":400,"d":33,"v":1190},{"p":400,"d":34,"v":640},{"p":400,"d":35,"v":810},{"p":400,"d":36,"v":780},{"p":400,"d":37,"v":1000},{"p":400,"d":38,"v":70},{"p":400,"d":39,"v":220},{"p":400,"d":40,"v":810},{"p":400,"d":41,"v":70},{"p":400,"d":43,"v":780},{"p":400,"d":44,"v":1000},{"p":400,"d":45,"v":220},{"p":400,"d":46,"v":450},{"p":400,"d":48,"v":450},{"p":400,"d":49,"v":640},{"p":400,"d":50,"v":220},{"p":400,"d":51,"v":900},{"p":400,"d":52,"v":810},{"p":400,"d":53,"v":780},{"p":400,"d":54,"v":900},{"p":400,"d":55,"v":780},{"p":400,"d":56,"v":780},{"p":400,"d":57,"v":1000},{"p":400,"d":58,"v":810},{"p":400,"d":59,"v":220},{"p":400,"d":60,"v":450},{"p":400,"d":61,"v":220},{"p":400,"d":62,"v":810},{"p":400,"d":63,"v":780},{"p":400,"d":100,"v":220},{"p":400,"d":101,"v":450},{"p":400,"d":102,"v":1000},{"p":400,"d":103,"v":220},{"p":400,"d":105,"v":640},{"p":400,"d":106,"v":900},{"p":400,"d":107,"v":780},{"p":400,"d":108,"v":780},{"p":400,"d":109,"v":640},{"p":400,"d":110,"v":780},{"p":400,"d":111,"v":810},{"p":400,"d":113,"v":450},{"p":400,"d":114,"v":1000},{"p":400,"d":115,"v":1000},{"p":400,"d":116,"v":780},{"p":400,"d":117,"v":220},{"p":400,"d":118,"v":640},{"p":400,"d":119,"v":1110},{"p":400,"d":120,"v":1190},{"p":400,"d":121,"v":1000},{"p":400,"d":122,"v":1270},{"p":400,"d":123,"v":780},{"p":400,"d":124,"v":900},{"p":400,"d":125,"v":780},{"p":400,"d":126,"v":640},{"p":400,"d":127,"v":780},{"p":400,"d":128,"v":900},{"p":400,"d":129,"v":1000},{"p":400,"d":130,"v":810},{"p":400,"d":131,"v":450},{"p":400,"d":132,"v":220},{"p":400,"d":134,"v":450},{"p":400,"d":135,"v":1000},{"p":400,"d":136,"v":220},{"p":400,"d":137,"v":450},{"p":400,"d":138,"v":900},{"p":400,"d":139,"v":1110},{"p":400,"d":140,"v":1340},{"p":400,"d":141,"v":780},{"p":400,"d":142,"v":1000},{"p":400,"d":143,"v":1270},{"p":400,"d":144,"v":780},{"p":400,"d":145,"v":1000},{"p":400,"d":146,"v":640},{"p":400,"d":147,"v":1340},{"p":400,"d":148,"v":220},{"p":400,"d":151,"v":900},{"p":400,"d":152,"v":450},{"p":400,"d":153,"v":780},{"p":400,"d":154,"v":450},{"p":400,"d":155,"v":1000},{"p":400,"d":156,"v":1000},{"p":400,"d":157,"v":1110},{"p":400,"d":158,"v":450},{"p":400,"d":159,"v":810},{"p":400,"d":160,"v":780},{"p":400,"d":161,"v":450},
{"p":407,"d":1,"v":220},{"p":407,"d":2,"v":70},{"p":407,"d":16,"v":1270},{"p":407,"d":17,"v":900},{"p":407,"d":18,"v":1190},{"p":407,"d":21,"v":640},{"p":407,"d":22,"v":640},{"p":407,"d":23,"v":640},{"p":407,"d":24,"v":1440},{"p":407,"d":25,"v":640},{"p":407,"d":26,"v":70},{"p":407,"d":28,"v":450},{"p":407,"d":29,"v":1340},{"p":407,"d":30,"v":900},{"p":407,"d":31,"v":810},{"p":407,"d":32,"v":780},{"p":407,"d":33,"v":1110},{"p":407,"d":36,"v":780},{"p":407,"d":37,"v":220},{"p":407,"d":38,"v":640},{"p":407,"d":39,"v":900},{"p":407,"d":40,"v":450},{"p":407,"d":42,"v":640},{"p":407,"d":43,"v":1000},{"p":407,"d":44,"v":220},{"p":407,"d":48,"v":640},{"p":407,"d":49,"v":900},{"p":407,"d":50,"v":70},{"p":407,"d":52,"v":450},{"p":407,"d":53,"v":780},{"p":407,"d":54,"v":450},{"p":407,"d":55,"v":70},{"p":407,"d":58,"v":640},{"p":407,"d":59,"v":1000},{"p":407,"d":60,"v":780},{"p":407,"d":61,"v":640},{"p":407,"d":64,"v":780},{"p":407,"d":65,"v":1190},{"p":407,"d":66,"v":1110},{"p":407,"d":67,"v":780},{"p":407,"d":68,"v":900},{"p":407,"d":69,"v":220},{"p":407,"d":70,"v":640},{"p":407,"d":71,"v":1000},{"p":407,"d":72,"v":220},{"p":407,"d":73,"v":780},{"p":407,"d":74,"v":450},{"p":407,"d":75,"v":220},{"p":407,"d":76,"v":780},{"p":407,"d":78,"v":780},{"p":407,"d":79,"v":1190},{"p":407,"d":80,"v":900},{"p":407,"d":81,"v":1000},{"p":407,"d":82,"v":70},{"p":407,"d":90,"v":450},{"p":407,"d":91,"v":220},{"p":407,"d":92,"v":900},{"p":407,"d":93,"v":450},{"p":407,"d":94,"v":450},{"p":407,"d":95,"v":450},{"p":407,"d":114,"v":640},{"p":407,"d":115,"v":450},{"p":407,"d":116,"v":640},{"p":407,"d":117,"v":780},{"p":407,"d":118,"v":640},{"p":407,"d":119,"v":640},{"p":407,"d":120,"v":450},{"p":407,"d":121,"v":640},{"p":407,"d":122,"v":1000},{"p":407,"d":123,"v":780},{"p":407,"d":124,"v":1270},{"p":407,"d":125,"v":450},{"p":407,"d":133,"v":640},{"p":407,"d":134,"v":1000},{"p":407,"d":135,"v":1110},{"p":407,"d":136,"v":450},{"p":407,"d":137,"v":640},{"p":407,"d":138,"v":640},{"p":407,"d":140,"v":640},{"p":407,"d":141,"v":450},{"p":407,"d":146,"v":220},{"p":407,"d":147,"v":1110},{"p":407,"d":148,"v":220},{"p":407,"d":149,"v":220},{"p":407,"d":150,"v":900},{"p":407,"d":151,"v":900},{"p":407,"d":152,"v":810},{"p":407,"d":153,"v":640},{"p":407,"d":156,"v":640},{"p":407,"d":157,"v":640},{"p":407,"d":158,"v":780},{"p":407,"d":159,"v":810},{"p":407,"d":160,"v":640},{"p":407,"d":161,"v":220},{"p":407,"d":162,"v":780},{"p":407,"d":163,"v":900},{"p":407,"d":164,"v":1000},{"p":407,"d":165,"v":900},{"p":407,"d":166,"v":450},{"p":407,"d":167,"v":70},
{"p":392,"d":4,"v":1270},{"p":392,"d":6,"v":1340},{"p":392,"d":7,"v":450},{"p":392,"d":8,"v":220},{"p":392,"d":10,"v":640},{"p":392,"d":11,"v":220},{"p":392,"d":15,"v":220},{"p":392,"d":20,"v":450},{"p":392,"d":21,"v":450},{"p":392,"d":22,"v":220},{"p":392,"d":23,"v":1210},{"p":392,"d":25,"v":1000},{"p":392,"d":30,"v":1000},{"p":392,"d":33,"v":1000},{"p":392,"d":35,"v":1340},{"p":392,"d":36,"v":1210},{"p":392,"d":37,"v":810},{"p":392,"d":38,"v":900},{"p":392,"d":40,"v":1190},{"p":392,"d":42,"v":70},{"p":392,"d":43,"v":220},{"p":392,"d":46,"v":780},{"p":392,"d":47,"v":1190},{"p":392,"d":48,"v":780},{"p":392,"d":49,"v":640},{"p":392,"d":50,"v":70},{"p":392,"d":51,"v":810},{"p":392,"d":52,"v":450},{"p":392,"d":55,"v":1270},{"p":392,"d":56,"v":1270},{"p":392,"d":57,"v":640},{"p":392,"d":58,"v":450},{"p":392,"d":59,"v":70},{"p":392,"d":60,"v":900},{"p":392,"d":61,"v":780},{"p":392,"d":62,"v":780},{"p":392,"d":63,"v":450},{"p":392,"d":64,"v":1270},{"p":392,"d":65,"v":640},{"p":392,"d":67,"v":1210},{"p":392,"d":69,"v":1340},{"p":392,"d":73,"v":70},{"p":392,"d":77,"v":220},{"p":392,"d":81,"v":70},{"p":392,"d":85,"v":220},{"p":392,"d":86,"v":900},{"p":392,"d":87,"v":220},{"p":392,"d":94,"v":220},{"p":392,"d":95,"v":900},{"p":392,"d":96,"v":220},{"p":392,"d":97,"v":220},{"p":392,"d":98,"v":220},{"p":392,"d":100,"v":450},{"p":392,"d":101,"v":640},{"p":392,"d":102,"v":780},{"p":392,"d":103,"v":450},{"p":392,"d":129,"v":1270},{"p":392,"d":130,"v":640},{"p":392,"d":131,"v":220},{"p":392,"d":132,"v":1000},{"p":392,"d":133,"v":810},{"p":392,"d":139,"v":450},{"p":392,"d":140,"v":640},{"p":392,"d":141,"v":450},{"p":392,"d":142,"v":810},{"p":392,"d":143,"v":810},{"p":392,"d":144,"v":1190},{"p":392,"d":145,"v":220},
{"p":420,"d":2,"v":1270},{"p":420,"d":3,"v":1000},{"p":420,"d":4,"v":1340},{"p":420,"d":5,"v":1210},{"p":420,"d":6,"v":780},{"p":420,"d":7,"v":640},{"p":420,"d":8,"v":1110},{"p":420,"d":10,"v":1270},{"p":420,"d":11,"v":1340},{"p":420,"d":12,"v":1340},{"p":420,"d":13,"v":1110},{"p":420,"d":14,"v":1340},{"p":420,"d":15,"v":1270},{"p":420,"d":16,"v":1110},{"p":420,"d":17,"v":1340},{"p":420,"d":18,"v":1340},{"p":420,"d":19,"v":1000},{"p":420,"d":21,"v":1340},{"p":420,"d":22,"v":1270},{"p":420,"d":25,"v":640},{"p":420,"d":26,"v":1270},{"p":420,"d":27,"v":1340},{"p":420,"d":28,"v":70},{"p":420,"d":29,"v":640},{"p":420,"d":30,"v":1340},{"p":420,"d":31,"v":1340},{"p":420,"d":32,"v":1340},{"p":420,"d":33,"v":1110},{"p":420,"d":34,"v":1340},{"p":420,"d":35,"v":1340},{"p":420,"d":36,"v":1340},{"p":420,"d":37,"v":1270},{"p":420,"d":38,"v":70},{"p":420,"d":39,"v":1340},{"p":420,"d":40,"v":1340},{"p":420,"d":41,"v":1340},{"p":420,"d":42,"v":450},{"p":420,"d":43,"v":220},{"p":420,"d":44,"v":810},{"p":420,"d":46,"v":1340},{"p":420,"d":47,"v":1340},{"p":420,"d":50,"v":450},{"p":420,"d":54,"v":1210},{"p":420,"d":58,"v":640},{"p":420,"d":59,"v":1440},{"p":420,"d":60,"v":900},{"p":420,"d":61,"v":1440},{"p":420,"d":62,"v":1340},{"p":420,"d":63,"v":780},{"p":420,"d":64,"v":640},{"p":420,"d":65,"v":450},{"p":420,"d":93,"v":810},{"p":420,"d":94,"v":1000},{"p":420,"d":95,"v":1340},{"p":420,"d":98,"v":780},{"p":420,"d":104,"v":450},{"p":420,"d":106,"v":1340},{"p":420,"d":107,"v":640},{"p":420,"d":111,"v":70},{"p":420,"d":112,"v":450},{"p":420,"d":113,"v":1340},{"p":420,"d":114,"v":1110},{"p":420,"d":116,"v":1340},{"p":420,"d":117,"v":1340},{"p":420,"d":118,"v":1340},{"p":420,"d":119,"v":70},{"p":420,"d":125,"v":450},{"p":420,"d":128,"v":900},{"p":420,"d":129,"v":780},{"p":420,"d":131,"v":220},{"p":420,"d":132,"v":1340},{"p":420,"d":133,"v":1270},{"p":420,"d":134,"v":780},
{"p":439,"d":1,"v":70},{"p":439,"d":13,"v":810},{"p":439,"d":22,"v":810},{"p":439,"d":26,"v":1000},{"p":439,"d":34,"v":1110},{"p":439,"d":35,"v":640},{"p":439,"d":44,"v":1000},{"p":439,"d":45,"v":1210},{"p":439,"d":48,"v":900},{"p":439,"d":49,"v":1340},{"p":439,"d":54,"v":1000},{"p":439,"d":56,"v":70},{"p":439,"d":83,"v":900},{"p":439,"d":84,"v":780},{"p":439,"d":87,"v":450},{"p":439,"d":89,"v":1190},{"p":439,"d":99,"v":1110},{"p":439,"d":105,"v":1000},{"p":439,"d":106,"v":70},{"p":439,"d":107,"v":220},{"p":439,"d":156,"v":1110},{"p":439,"d":160,"v":1000},{"p":439,"d":161,"v":220},{"p":439,"d":162,"v":900},
{"p":434,"d":1,"v":70},{"p":434,"d":10,"v":1340},{"p":434,"d":15,"v":1340},{"p":434,"d":19,"v":1210},{"p":434,"d":20,"v":1270},{"p":434,"d":22,"v":1190},{"p":434,"d":27,"v":1210},{"p":434,"d":30,"v":1210},{"p":434,"d":35,"v":1110},{"p":434,"d":36,"v":1190},{"p":434,"d":39,"v":1210},{"p":434,"d":40,"v":780},{"p":434,"d":41,"v":1000},{"p":434,"d":48,"v":900},{"p":434,"d":49,"v":1340},{"p":434,"d":50,"v":1210},{"p":434,"d":53,"v":1000},{"p":434,"d":54,"v":1000},{"p":434,"d":56,"v":220},{"p":434,"d":60,"v":1000},{"p":434,"d":62,"v":1210},{"p":434,"d":69,"v":1190},{"p":434,"d":70,"v":70},{"p":434,"d":71,"v":1110},{"p":434,"d":74,"v":1340},{"p":434,"d":75,"v":900},{"p":434,"d":77,"v":1000},{"p":434,"d":78,"v":1340},{"p":434,"d":84,"v":900},{"p":434,"d":85,"v":1340},{"p":434,"d":87,"v":1340},{"p":434,"d":88,"v":1190},{"p":434,"d":89,"v":1210},{"p":434,"d":95,"v":1270},{"p":434,"d":96,"v":640},{"p":434,"d":114,"v":220},{"p":434,"d":115,"v":1340},{"p":434,"d":120,"v":1000},{"p":434,"d":121,"v":220},{"p":434,"d":124,"v":640},{"p":434,"d":145,"v":900},{"p":434,"d":147,"v":1340},{"p":434,"d":149,"v":450},{"p":434,"d":151,"v":1190},{"p":434,"d":152,"v":70},{"p":434,"d":157,"v":220},
{"p":442,"d":7,"v":1110},{"p":442,"d":8,"v":780},{"p":442,"d":9,"v":1440},{"p":442,"d":10,"v":900},{"p":442,"d":11,"v":1000},{"p":442,"d":12,"v":640},{"p":442,"d":13,"v":1000},{"p":442,"d":14,"v":450},{"p":442,"d":15,"v":450},{"p":442,"d":16,"v":810},{"p":442,"d":17,"v":900},{"p":442,"d":18,"v":1000},{"p":442,"d":19,"v":810},{"p":442,"d":20,"v":1340},{"p":442,"d":21,"v":900},{"p":442,"d":22,"v":450},{"p":442,"d":23,"v":220},{"p":442,"d":24,"v":780},{"p":442,"d":25,"v":1000},{"p":442,"d":26,"v":640},{"p":442,"d":27,"v":1210},{"p":442,"d":28,"v":900},{"p":442,"d":29,"v":900},{"p":442,"d":30,"v":810},{"p":442,"d":31,"v":1000},{"p":442,"d":32,"v":1000},{"p":442,"d":33,"v":810},{"p":442,"d":34,"v":220},{"p":442,"d":36,"v":450},{"p":442,"d":37,"v":780},{"p":442,"d":38,"v":810},{"p":442,"d":39,"v":900},{"p":442,"d":40,"v":450},{"p":442,"d":41,"v":450},{"p":442,"d":42,"v":900},{"p":442,"d":43,"v":1000},{"p":442,"d":44,"v":780},{"p":442,"d":45,"v":1000},{"p":442,"d":46,"v":810},{"p":442,"d":47,"v":450},{"p":442,"d":48,"v":810},{"p":442,"d":49,"v":1000},{"p":442,"d":50,"v":900},{"p":442,"d":51,"v":780},{"p":442,"d":52,"v":1000},{"p":442,"d":53,"v":640},{"p":442,"d":54,"v":450},{"p":442,"d":55,"v":1000},{"p":442,"d":56,"v":900},{"p":442,"d":57,"v":900},{"p":442,"d":58,"v":900},{"p":442,"d":59,"v":640},{"p":442,"d":60,"v":780},{"p":442,"d":61,"v":900},{"p":442,"d":62,"v":780},{"p":442,"d":63,"v":900},{"p":442,"d":64,"v":810},{"p":442,"d":65,"v":900},{"p":442,"d":66,"v":640},{"p":442,"d":67,"v":1000},{"p":442,"d":68,"v":450},{"p":442,"d":69,"v":220},{"p":442,"d":71,"v":70},
{"p":416,"d":1,"v":300},{"p":416,"d":2,"v":1270},{"p":416,"d":3,"v":1340},{"p":416,"d":4,"v":1110},{"p":416,"d":5,"v":1000},{"p":416,"d":6,"v":1440},{"p":416,"d":7,"v":300},{"p":416,"d":8,"v":1000},{"p":416,"d":9,"v":640},{"p":416,"d":10,"v":1110},{"p":416,"d":11,"v":780},{"p":416,"d":12,"v":1190},{"p":416,"d":13,"v":810},{"p":416,"d":14,"v":220},{"p":416,"d":15,"v":220},{"p":416,"d":16,"v":70},{"p":416,"d":18,"v":220},{"p":416,"d":19,"v":640},{"p":416,"d":20,"v":640},{"p":416,"d":21,"v":220},{"p":416,"d":22,"v":70},{"p":416,"d":25,"v":780},{"p":416,"d":26,"v":450},{"p":416,"d":45,"v":450},{"p":416,"d":46,"v":1110},{"p":416,"d":47,"v":900},{"p":416,"d":48,"v":780},{"p":416,"d":49,"v":1000},{"p":416,"d":50,"v":450},{"p":416,"d":52,"v":70},{"p":416,"d":113,"v":450},{"p":416,"d":114,"v":220},{"p":416,"d":115,"v":450},{"p":416,"d":116,"v":450},{"p":416,"d":120,"v":450},{"p":416,"d":121,"v":70},{"p":416,"d":141,"v":1340},{"p":416,"d":142,"v":1440},{"p":416,"d":143,"v":900},{"p":416,"d":144,"v":640},{"p":416,"d":145,"v":900},{"p":416,"d":146,"v":900},{"p":416,"d":147,"v":220},{"p":416,"d":148,"v":70},{"p":416,"d":149,"v":220},{"p":416,"d":150,"v":640},{"p":416,"d":151,"v":1000},{"p":416,"d":152,"v":810},{"p":416,"d":153,"v":810},{"p":416,"d":154,"v":900},{"p":416,"d":155,"v":220},{"p":416,"d":156,"v":1000},{"p":416,"d":157,"v":900},{"p":416,"d":158,"v":220},{"p":416,"d":159,"v":1440},{"p":416,"d":160,"v":220},{"p":416,"d":167,"v":220},{"p":416,"d":168,"v":220},{"p":416,"d":169,"v":70},{"p":416,"d":173,"v":220},
{"p":412,"d":1,"v":640},{"p":412,"d":6,"v":1340},{"p":412,"d":10,"v":1340},{"p":412,"d":12,"v":1340},{"p":412,"d":14,"v":1270},{"p":412,"d":15,"v":1210},{"p":412,"d":21,"v":1340},{"p":412,"d":22,"v":220},{"p":412,"d":23,"v":450},{"p":412,"d":24,"v":1340},{"p":412,"d":26,"v":810},{"p":412,"d":27,"v":1340},{"p":412,"d":31,"v":1270},{"p":412,"d":33,"v":900},{"p":412,"d":34,"v":900},{"p":412,"d":35,"v":1110},{"p":412,"d":36,"v":900},{"p":412,"d":37,"v":1000},{"p":412,"d":38,"v":1190},{"p":412,"d":39,"v":640},{"p":412,"d":40,"v":640},{"p":412,"d":41,"v":1190},{"p":412,"d":42,"v":1270},{"p":412,"d":43,"v":1190},{"p":412,"d":44,"v":900},{"p":412,"d":45,"v":810},{"p":412,"d":46,"v":70},{"p":412,"d":47,"v":450},{"p":412,"d":48,"v":450},{"p":412,"d":49,"v":70},{"p":412,"d":50,"v":900},{"p":412,"d":52,"v":1000},{"p":412,"d":53,"v":1000},{"p":412,"d":54,"v":450},{"p":412,"d":55,"v":70},{"p":412,"d":57,"v":70},{"p":412,"d":100,"v":220},{"p":412,"d":101,"v":70},{"p":412,"d":116,"v":70},
{"p":423,"d":1,"v":1000},{"p":423,"d":6,"v":450},{"p":423,"d":7,"v":640},{"p":423,"d":10,"v":1270},{"p":423,"d":11,"v":640},{"p":423,"d":12,"v":450},{"p":423,"d":67,"v":640},{"p":423,"d":70,"v":900},{"p":423,"d":74,"v":900},{"p":423,"d":76,"v":1000},{"p":423,"d":80,"v":1270},{"p":423,"d":83,"v":1190},{"p":423,"d":85,"v":1340},{"p":423,"d":91,"v":1000},{"p":423,"d":94,"v":1000},{"p":423,"d":98,"v":900},{"p":423,"d":99,"v":640},{"p":423,"d":101,"v":70},{"p":423,"d":172,"v":780},{"p":423,"d":177,"v":1000},{"p":423,"d":178,"v":70},{"p":423,"d":183,"v":1110},
{"p":398,"d":1,"v":1000},{"p":398,"d":12,"v":780},{"p":398,"d":17,"v":1270},{"p":398,"d":20,"v":1340},{"p":398,"d":24,"v":1270},{"p":398,"d":29,"v":640},{"p":398,"d":30,"v":1190},{"p":398,"d":33,"v":1340},{"p":398,"d":37,"v":70},{"p":398,"d":42,"v":1340},{"p":398,"d":46,"v":810},{"p":398,"d":47,"v":70},{"p":398,"d":50,"v":1000},
{"p":404,"d":1,"v":300},{"p":404,"d":2,"v":900},{"p":404,"d":3,"v":1000},{"p":404,"d":4,"v":810},{"p":404,"d":5,"v":450},{"p":404,"d":6,"v":640},{"p":404,"d":7,"v":700},{"p":404,"d":11,"v":640},{"p":404,"d":12,"v":450},{"p":404,"d":13,"v":70},{"p":404,"d":15,"v":450},{"p":404,"d":36,"v":70},{"p":404,"d":95,"v":70},
{"p":445,"d":177,"v":70},{"p":445,"d":179,"v":640},{"p":445,"d":180,"v":220}
]},"mark":{"type":"rect","height":12.2},"encoding":{"x":{"field":"p","type":"ordinal","sort":null,"scale":{"domain":[422,427,441,437,430,429,406,390,421,411,428,405,419,403,418,431,433,436,380,417,400,407,392,420,439,434,442,416,412,423,398,404,445],"range":[40.7,1215.5],"paddingInner":0,"paddingOuter":0},"axis":null},"y":{"field":"d","type":"quantitative"},"color":{"field":"v","type":"quantitative"}}}],"resolve":{"scale":{"x":"independent"}}}
